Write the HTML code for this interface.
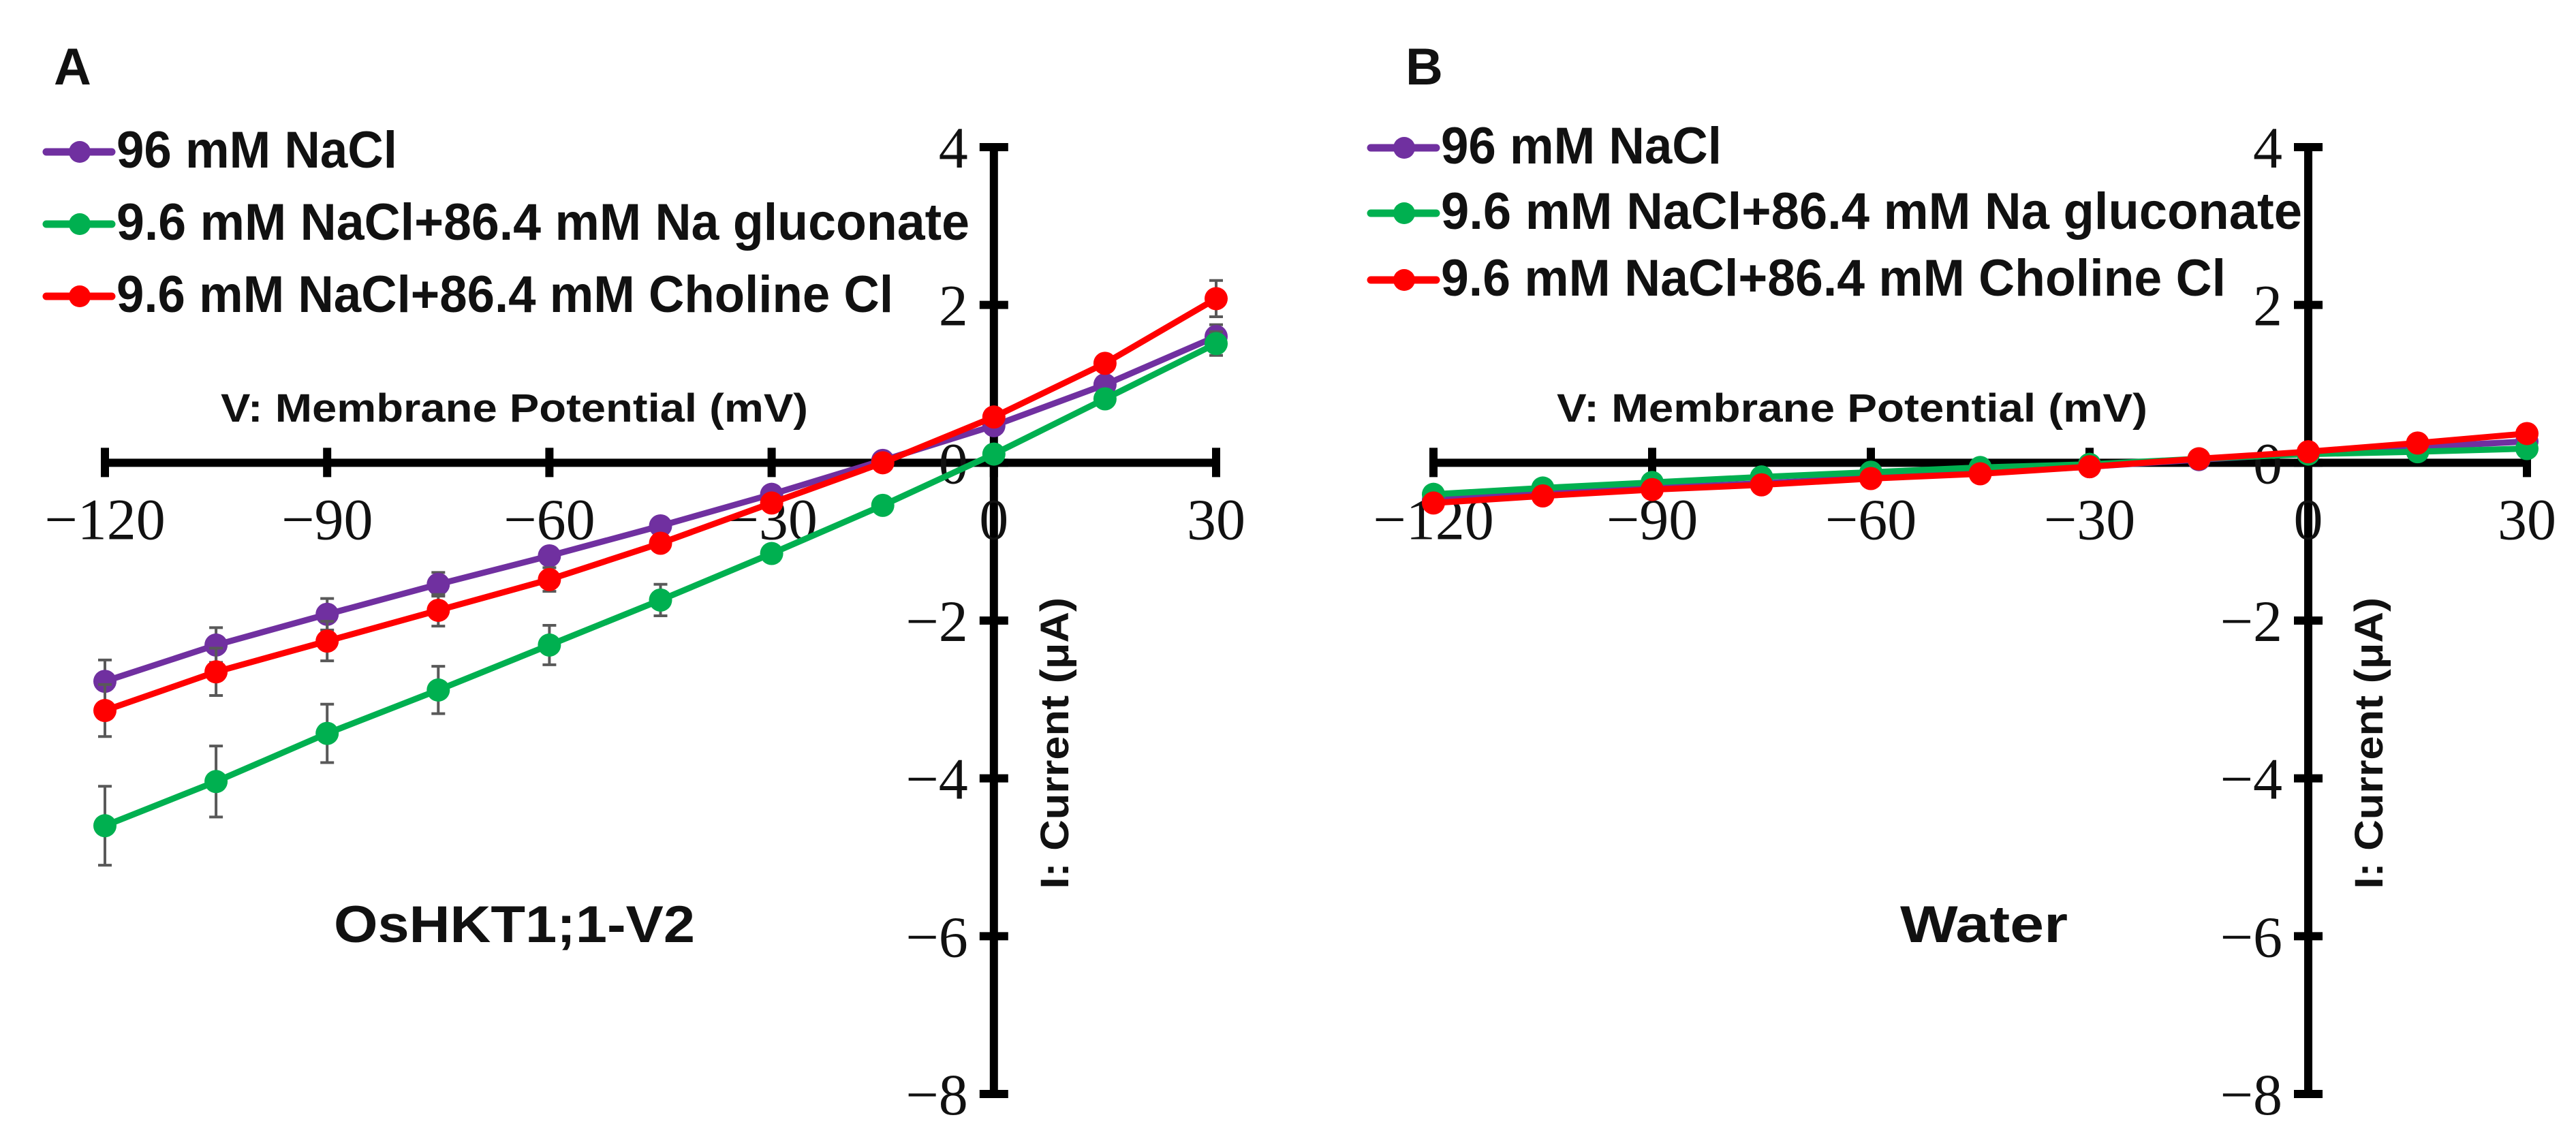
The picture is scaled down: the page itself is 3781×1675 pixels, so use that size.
<!DOCTYPE html>
<html><head><meta charset="utf-8"><style>
html,body{margin:0;padding:0;background:#fff;}
svg{display:block;}
.tk{font-family:"Liberation Serif",serif;font-size:86px;fill:#111;}
.lg{font-family:"Liberation Sans",sans-serif;font-weight:bold;font-size:76px;fill:#111;}
.ttl{font-family:"Liberation Sans",sans-serif;font-weight:bold;font-size:58px;fill:#111;}
</style></head><body>
<svg id="chart" width="3781" height="1675" viewBox="0 0 3781 1675" xmlns="http://www.w3.org/2000/svg"></svg>
<script>
const voltages=[-120,-105,-90,-75,-60,-45,-30,-15,0,15,30];
const xTicks=[-120,-90,-60,-30,0,30];
const yTicks=[4,2,0,-2,-4,-6,-8];
const seriesNames=["96 mM NaCl","9.6 mM NaCl+86.4 mM Na gluconate","9.6 mM NaCl+86.4 mM Choline Cl"];
const seriesColors=["#7030A0","#00B050","#FF0000"];
const aPurple=[-2.77,-2.31,-1.92,-1.54,-1.18,-0.80,-0.40,0.03,0.47,0.99,1.60];
const aGreen=[-4.60,-4.04,-3.43,-2.88,-2.31,-1.74,-1.15,-0.54,0.11,0.81,1.51];
const aRed=[-3.14,-2.65,-2.26,-1.87,-1.48,-1.02,-0.51,0.00,0.58,1.26,2.08];
const aPurpleErr=[0.27,0.22,0.2,0.15,0.1,0.08,0.06,0.04,0.06,0.08,0.15];
const aGreenErr=[0.5,0.45,0.37,0.3,0.25,0.2,0.1,0.06,0.05,0.08,0.15];
const aRedErr=[0.33,0.3,0.25,0.2,0.15,0.1,0.08,0.05,0.06,0.1,0.23];
const bPurple=[-0.47,-0.39,-0.32,-0.26,-0.19,-0.13,-0.05,0.04,0.12,0.2,0.27];
const bGreen=[-0.40,-0.32,-0.25,-0.18,-0.12,-0.06,-0.02,0.05,0.11,0.14,0.18];
const bRed=[-0.51,-0.42,-0.34,-0.28,-0.20,-0.14,-0.05,0.05,0.14,0.25,0.37];
const zeroErr=[0,0,0,0,0,0,0,0,0,0,0];

const NS="http://www.w3.org/2000/svg";
const svg=document.getElementById('chart');
function mk(tag,attrs,parent){const e=document.createElementNS(NS,tag);for(const k in attrs)e.setAttribute(k,attrs[k]);(parent||svg).appendChild(e);return e;}

function panel(cfg){
  const g=mk('g',{});
  
  
  const xs=v=>cfg.x0+(v-(-120))*(cfg.x30-cfg.x0)/150;
  const ys=v=>cfg.y4+(4-v)*(cfg.yM8-cfg.y4)/12;
  const yAx=xs(0), xAx=ys(0);
  const xa=mk('line',{x1:xs(-120),x2:xs(30),y1:xAx,y2:xAx,stroke:'#000','stroke-width':12},g);
  
  
  const ya=mk('line',{x1:yAx,x2:yAx,y1:ys(4),y2:ys(-8),stroke:'#000','stroke-width':12},g);
  
  
  xTicks.forEach(t=>{
    const l=mk('line',{x1:xs(t),x2:xs(t),y1:xAx-22,y2:xAx+21,stroke:'#000','stroke-width':12},g);
    
    
    const tx=mk('text',{x:xs(t),y:xAx+112,'text-anchor':'middle',class:'tk'},g);
    tx.textContent=(t<0?'\u2212'+(-t):String(t));
    
    
  });
  yTicks.forEach(t=>{
    const l=mk('line',{x1:yAx-21,x2:yAx+21,y1:ys(t),y2:ys(t),stroke:'#000','stroke-width':12},g);
    
    
    const tx=mk('text',{x:yAx-38,y:ys(t)+30,'text-anchor':'end',class:'tk'},g);
    tx.textContent=(t<0?'\u2212'+(-t):String(t));
    
    
  });
  const xt=mk('text',{x:cfg.xtX,y:619,class:'ttl',textLength:cfg.xtW,lengthAdjust:'spacingAndGlyphs'},g);
  xt.textContent='V: Membrane Potential (mV)';
  
  
  const yt=mk('text',{x:0,y:0,class:'ttl','font-size':'64','text-anchor':'middle',textLength:428,lengthAdjust:'spacingAndGlyphs',transform:`translate(${yAx+109},1091) rotate(-90)`},g);
  yt.textContent='I: Current (\u03bcA)';
  
  
  const lab=mk('text',{x:cfg.labX,y:124,class:'lg','font-size':'82'},g);
  lab.textContent=cfg.letter;
  
  
  const nm=mk('text',{x:cfg.nmX,y:1383,class:'lg','font-size':'92',textLength:cfg.nmW,lengthAdjust:'spacingAndGlyphs'},g);
  nm.textContent=cfg.name;
  
  
  cfg.series.forEach((vals,si)=>{
    const col=seriesColors[si];
    const sg=mk('g',{},g);
    
    
    const errs=cfg.errs[si];
    voltages.forEach((v,i)=>{
      if(errs[i]<=0.05)return;
      const x=xs(v),y1=ys(vals[i]+errs[i]),y2=ys(vals[i]-errs[i]);
      const e=mk('path',{d:`M${x},${y1}V${y2}M${x-10},${y1}H${x+10}M${x-10},${y2}H${x+10}`,stroke:'#595959','stroke-width':4,fill:'none'},sg);
      
      
    });
    const pts=voltages.map((v,i)=>xs(v)+','+ys(vals[i])).join(' ');
    const pl=mk('polyline',{points:pts,fill:'none',stroke:col,'stroke-width':9,'stroke-linejoin':'round'},sg);
    
    
    voltages.forEach((v,i)=>{
      const c=mk('circle',{cx:xs(v),cy:ys(vals[i]),r:17,fill:col},sg);
      
      
    });
  });
  seriesNames.forEach((n,si)=>{
    const y=cfg.legY[si];
    const lg=mk('g',{},g);
    
    
    mk('line',{x1:cfg.legX,x2:cfg.legX+96,y1:y,y2:y,stroke:seriesColors[si],'stroke-width':11,'stroke-linecap':'round'},lg);
    mk('ellipse',{cx:cfg.legX+49,cy:y,rx:16,ry:16,fill:seriesColors[si]},lg);
    const t=mk('text',{x:cfg.legX+103,y:y+23,class:'lg',textLength:cfg.legW[si],lengthAdjust:'spacingAndGlyphs'},lg);
    t.textContent=n;
  });
}
panel({key:'a',letter:'A',name:'OsHKT1;1-V2',x0:154,x30:1785,y4:216,yM8:1606,xtX:324,xtW:862,labX:79,nmX:490,nmW:530,
  series:[aPurple,aGreen,aRed],errs:[aPurpleErr,aGreenErr,aRedErr],legX:68,legY:[223,329,435],legW:[412,1252,1140]});
panel({key:'b',letter:'B',name:'Water',x0:2104,x30:3709,y4:216,yM8:1606,xtX:2285,xtW:867,labX:2063,nmX:2789,nmW:246,
  series:[bPurple,bGreen,bRed],errs:[zeroErr,zeroErr,zeroErr],legX:2012,legY:[217,313,411],legW:[412,1264,1152]});
</script>
</body></html>
